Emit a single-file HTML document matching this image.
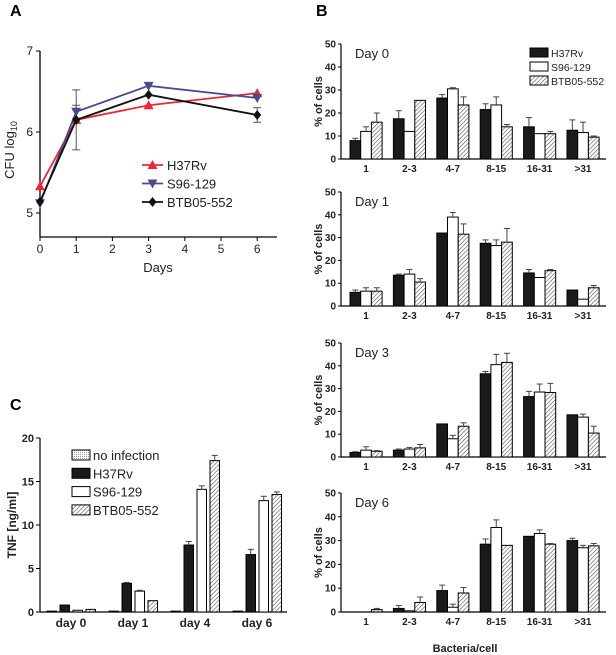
<!DOCTYPE html>
<html><head><meta charset="utf-8"><style>
body{margin:0;background:#fff}
svg{display:block;font-family:"Liberation Sans",Arial,sans-serif}
</style></head><body>
<svg id="fig" width="616" height="655" viewBox="0 0 616 655">
<defs>
<pattern id="hatch" patternUnits="userSpaceOnUse" width="3" height="3" patternTransform="rotate(45)">
<rect width="3" height="3" fill="#fff"/><line x1="0" y1="0" x2="0" y2="3" stroke="#555" stroke-width="1.2"/></pattern>
<pattern id="dots" patternUnits="userSpaceOnUse" width="2" height="2">
<rect width="2" height="2" fill="#fff"/><rect width="1" height="1" fill="#999"/></pattern>
</defs>
</svg>
<script>
// Panel A data
const daysA=[0,1,3,6];
const aH37=[5.33,6.15,6.33,6.48];
const aS96=[5.12,6.25,6.57,6.42];
const aBTB=[5.14,6.15,6.46,6.21];
const aS96Err=[0,0.08,0,0];
const aBTBErr=[0,0.37,0,0.09];
const aTicksX=[0,1,2,3,4,5,6];
const aTicksY=[5,6,7];
// Panel B data
const bCats=["1","2-3","4-7","8-15","16-31",">31"];
const bTicks=[0,10,20,30,40,50];
const bDay0H=[8,17.5,26.5,21.5,14,12.5], bDay0S=[12,12,30.5,23.5,11,11.5], bDay0B=[16,25.5,23.5,14,11,9.5];
const bDay0He=[1,3.5,1.5,2.5,4,4.5], bDay0Se=[2,0,0.5,3.5,0,4.5], bDay0Be=[4,0,3.5,1,1,0.5];
const bDay1H=[6,13.5,32,27.5,14.5,7], bDay1S=[6.5,14,39,26.5,12.5,3], bDay1B=[6.5,10.5,31.5,28,15.5,8];
const bDay1He=[1,0.5,0,1.5,1.5,0], bDay1Se=[1.5,2,2,2.5,0,0], bDay1Be=[1.5,1.5,4.5,6,0.5,1];
const bDay3H=[2,3,14.5,36.5,26.5,18.5], bDay3S=[3,3.5,8,40.5,28.5,17.5], bDay3B=[2.5,4,13.5,41.5,28.3,10.5];
const bDay3He=[0.3,0.5,0,1,2.3,0], bDay3Se=[1.5,0.7,1.5,4.5,3.5,1.3], bDay3Be=[0.3,1.5,1.5,4,4,3];
const bDay6H=[0,1.5,9,28.5,31.8,30], bDay6S=[0,0.5,2,35.5,33,27], bDay6B=[1,4,8,28,28.5,27.8];
const bDay6He=[0,1.2,2.3,2.2,0,1], bDay6Se=[0,0,1.3,3.2,1.5,1], bDay6Be=[0.5,2.3,2.3,0,0.3,1];
// Panel C data
const cCats=["day 0","day 1","day 4","day 6"];
const cTicks=[0,5,10,15,20];
const cNone=[0.1,0.1,0.1,0.1];
const cH37=[0.8,3.3,7.7,6.6];
const cS96=[0.2,2.4,14.1,12.8];
const cBTB=[0.3,1.3,17.4,13.5];
const cH37e=[0,0.1,0.4,0.6];
const cS96e=[0,0.1,0.4,0.5];
const cBTBe=[0,0,0.6,0.3];

const svg=document.getElementById('fig');
const NS='http://www.w3.org/2000/svg';
function el(tag,attrs,parent){const e=document.createElementNS(NS,tag);for(const k in attrs)e.setAttribute(k,attrs[k]);(parent||svg).appendChild(e);return e;}
function txt(s,attrs,parent){const e=el('text',attrs,parent);e.textContent=s;return e;}

let t;
t=txt('A',{x:10,y:16,'font-size':16,'font-weight':'bold'});


t=txt('B',{x:316,y:16,'font-size':16,'font-weight':'bold'});


t=txt('C',{x:10,y:410,'font-size':16,'font-weight':'bold'});



// ===== Panel A =====
const gA=el('g',{});


const ax=d=>40+d*36.2, ay=v=>132-(v-6)*81;
el('line',{x1:40,y1:51,x2:40,y2:237,stroke:'#000','stroke-width':1.3},gA);
el('line',{x1:40,y1:237,x2:277,y2:237,stroke:'#000','stroke-width':1.3},gA);
aTicksY.forEach(v=>{el('line',{x1:36,y1:ay(v),x2:40,y2:ay(v),stroke:'#000'},gA);
 const e=txt(v,{x:33,y:ay(v)+4,'font-size':12,'text-anchor':'end',fill:'#222'},gA);
 
 });
aTicksX.forEach(v=>{el('line',{x1:ax(v),y1:237,x2:ax(v),y2:241,stroke:'#000'},gA);
 const e=txt(v,{x:ax(v),y:253,'font-size':12,'text-anchor':'middle',fill:'#222'},gA);
 
 });
t=txt('Days',{x:158,y:272,'font-size':13,'text-anchor':'middle',fill:'#222'},gA);


t=el('text',{x:0,y:0,'font-size':13,'text-anchor':'middle',fill:'#222',transform:'translate(14,150) rotate(-90)'},gA);
t.innerHTML='CFU log<tspan font-size="9" dy="3">10</tspan>';


function errA(vals,errs,col){vals.forEach((v,i)=>{if(errs[i]>0){const x=ax(daysA[i]);
 el('line',{x1:x,y1:ay(v-errs[i]),x2:x,y2:ay(v+errs[i]),stroke:col},gA);
 el('line',{x1:x-4,y1:ay(v-errs[i]),x2:x+4,y2:ay(v-errs[i]),stroke:col},gA);
 el('line',{x1:x-4,y1:ay(v+errs[i]),x2:x+4,y2:ay(v+errs[i]),stroke:col},gA);}});}
errA(aS96,aS96Err,'#555');errA(aBTB,aBTBErr,'#555');
function marker(type,x,y,col,g){
 if(type==='up')return el('polygon',{points:`${x},${y-5} ${x-5},${y+4} ${x+5},${y+4}`,fill:col},g);
 if(type==='down')return el('polygon',{points:`${x},${y+5} ${x-5},${y-4} ${x+5},${y-4}`,fill:col},g);
 return el('polygon',{points:`${x},${y-5} ${x+4},${y} ${x},${y+5} ${x-4},${y}`,fill:col},g);}
const seriesA=[[aH37,'#e8283a','up','h37rv'],[aS96,'#4a4a8c','down','s96-129'],[aBTB,'#111','diamond','btb05-552']];
seriesA.forEach(([vals,col,m,nm])=>{
 const p=el('polyline',{points:vals.map((v,i)=>ax(daysA[i])+','+ay(v)).join(' '),fill:'none',stroke:col,'stroke-width':1.8},gA);
 
 
 vals.forEach((v,i)=>{const mk=marker(m,ax(daysA[i]),ay(v),col,gA);
  
  });
});
const legA=[['H37Rv','#e8283a','up'],['S96-129','#4a4a8c','down'],['BTB05-552','#111','diamond']];
legA.forEach(([n,col,m],i)=>{const y=165+i*18.5;
 const g=el('g',{},gA);
 
 
 el('line',{x1:142,y1:y,x2:163,y2:y,stroke:col,'stroke-width':1.8},g);marker(m,152.5,y,col,g);
 txt(n,{x:167,y:y+5,'font-size':13,fill:'#222'},g);});

// ===== Panel B =====
const bPanels=[
 ['Day 0',44,159,bDay0H,bDay0S,bDay0B,bDay0He,bDay0Se,bDay0Be,172],
 ['Day 1',192,306,bDay1H,bDay1S,bDay1B,bDay1He,bDay1Se,bDay1Be,319],
 ['Day 3',343,457,bDay3H,bDay3S,bDay3B,bDay3He,bDay3Se,bDay3Be,470],
 ['Day 6',493,612,bDay6H,bDay6S,bDay6B,bDay6He,bDay6Se,bDay6Be,625]];
const bx=i=>366+i*43.4;
const fills=['#1a1a1a','#fff','url(#hatch)'];
bPanels.forEach(([name,top,bot,H,S,B,He,Se,Be,ly],pi)=>{
 const g=el('g',{});
 
 
 const y=v=>bot-(v/50)*(bot-top);
 el('line',{x1:341,y1:top,x2:341,y2:bot,stroke:'#000','stroke-width':1.2},g);
 el('line',{x1:341,y1:bot,x2:606,y2:bot,stroke:'#000','stroke-width':1.2},g);
 bTicks.forEach(v=>{el('line',{x1:338,y1:y(v),x2:341,y2:y(v),stroke:'#000'},g);
  const e=txt(v,{x:336,y:y(v)+3.5,'font-size':10,'font-weight':'bold','text-anchor':'end',fill:'#222'},g);
  
  });
 bCats.forEach((c,i)=>{const e=txt(c,{x:bx(i),y:ly,'font-size':10,'font-weight':'bold','text-anchor':'middle',fill:'#222'},g);
  
  });
 t=txt(name,{x:355,y:top+14,'font-size':13,fill:'#222'},g);
 
 
 t=txt('% of cells',{x:0,y:0,'font-size':11,'font-weight':'bold','text-anchor':'middle',fill:'#222',transform:`translate(322,${(top+bot)/2}) rotate(-90)`},g);
 
 
 [[H,He],[S,Se],[B,Be]].forEach(([vals,errs],si)=>{vals.forEach((v,i)=>{
  const x0=bx(i)-16+si*10.7;
  if(v>0){const r=el('rect',{x:x0,y:y(v),width:10.7,height:bot-y(v),fill:fills[si],stroke:'#000','stroke-width':1},g);
   
   }
  if(errs[i]>0){const cx=x0+5.35;
   el('line',{x1:cx,y1:y(v),x2:cx,y2:y(v+errs[i]),stroke:'#444'},g);
   el('line',{x1:cx-3,y1:y(v+errs[i]),x2:cx+3,y2:y(v+errs[i]),stroke:'#444'},g);}
 });});
});
const legB=['H37Rv','S96-129','BTB05-552'];
legB.forEach((n,i)=>{const y=48+i*14;
 const g=el('g',{});
 
 
 el('rect',{x:530,y:y,width:18,height:9,fill:fills[i],stroke:'#000'},g);
 txt(n,{x:551,y:y+9,'font-size':10.5,fill:'#222'},g);});
t=txt('Bacteria/cell',{x:465,y:652,'font-size':11,'font-weight':'bold','text-anchor':'middle',fill:'#222'});



// ===== Panel C =====
const gC=el('g',{});


const cy=v=>612-v*8.7, cx=i=>71+i*62;
el('line',{x1:40,y1:438,x2:40,y2:612,stroke:'#000','stroke-width':1.2},gC);
el('line',{x1:40,y1:612,x2:287,y2:612,stroke:'#000','stroke-width':1.2},gC);
cTicks.forEach(v=>{el('line',{x1:36,y1:cy(v),x2:40,y2:cy(v),stroke:'#000'},gC);
 const e=txt(v,{x:34,y:cy(v)+4,'font-size':11,'font-weight':'bold','text-anchor':'end',fill:'#222'},gC);
 
 });
cCats.forEach((c,i)=>{const e=txt(c,{x:cx(i),y:627,'font-size':12,'font-weight':'bold','text-anchor':'middle',fill:'#222'},gC);
 
 });
t=txt('TNF [ng/ml]',{x:0,y:0,'font-size':12,'font-weight':'bold','text-anchor':'middle',fill:'#222',transform:'translate(16,525) rotate(-90)'},gC);


const cFills=['url(#dots)','#1a1a1a','#fff','url(#hatch)'];
[[cNone,[0,0,0,0]],[cH37,cH37e],[cS96,cS96e],[cBTB,cBTBe]].forEach(([vals,errs],si)=>{vals.forEach((v,i)=>{
 const x0=cx(i)-24+si*13;
 const r=el('rect',{x:x0,y:cy(v),width:9.5,height:612-cy(v),fill:cFills[si],stroke:'#000','stroke-width':1},gC);
 
 
 if(errs[i]>0){const c=x0+4.75;
  el('line',{x1:c,y1:cy(v),x2:c,y2:cy(v+errs[i]),stroke:'#444'},gC);
  el('line',{x1:c-3,y1:cy(v+errs[i]),x2:c+3,y2:cy(v+errs[i]),stroke:'#444'},gC);}
});});
const legC=['no infection','H37Rv','S96-129','BTB05-552'];
legC.forEach((n,i)=>{const y=450+i*18.3;
 const g=el('g',{},gC);
 
 
 el('rect',{x:72,y:y,width:18,height:10,fill:cFills[i],stroke:'#000'},g);
 txt(n,{x:93,y:y+10,'font-size':13,fill:'#222'},g);});
</script>
</body></html>
